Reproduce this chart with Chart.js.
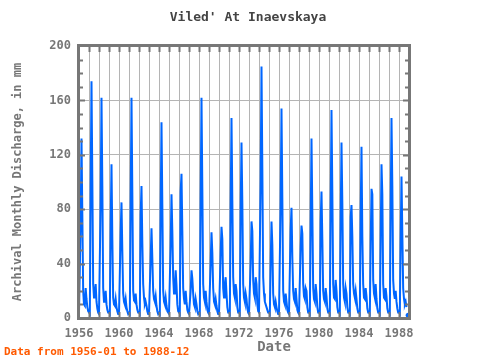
<!DOCTYPE html>
<html>
<head>
<meta charset="utf-8">
<script src="https://cdn.jsdelivr.net/npm/chart.js@4/dist/chart.umd.min.js"></script>
<style>
  body { margin: 0; background: #fff; }
  #chart { display: block; }
</style>
</head>
<body>
<canvas id="chart" width="480" height="360"></canvas>
<script>
// Monthly discharge (mm), Jan..Dec
const years = [];
for (let y = 1956; y <= 1988; y++) years.push(y);

const monthlyDischarge = [
  [4, 4, 70, 132, 76, 20, 10, 9, 22, 14, 8, 5],      // 1956
  [4, 3, 95, 174, 101, 25, 15, 18, 25, 12, 7, 4],    // 1957
  [3, 3, 86, 162, 97, 22, 12, 14, 20, 10, 6, 4],     // 1958
  [4, 3, 68, 113, 58, 15, 10, 9, 14, 8, 5, 3],       // 1959
  [3, 3, 63, 85, 49, 18, 12, 10, 14, 8, 5, 3],       // 1960
  [4, 3, 84, 162, 92, 20, 13, 12, 18, 10, 6, 4],     // 1961
  [4, 3, 76, 97, 55, 25, 15, 10, 12, 9, 5, 3],       // 1962
  [3, 3, 44, 66, 44, 20, 14, 12, 16, 9, 5, 3],       // 1963
  [4, 3, 79, 144, 83, 20, 12, 10, 15, 9, 5, 4],      // 1964
  [3, 3, 54, 91, 64, 30, 18, 22, 35, 24, 10, 5],     // 1965
  [4, 3, 93, 106, 64, 22, 14, 10, 20, 12, 6, 4],     // 1966
  [3, 3, 20, 35, 29, 18, 10, 8, 14, 10, 5, 3],       // 1967
  [4, 3, 87, 162, 95, 25, 15, 12, 20, 12, 6, 4],     // 1968
  [3, 3, 40, 63, 48, 22, 12, 10, 14, 9, 5, 3],       // 1969
  [3, 3, 48, 67, 58, 22, 15, 25, 30, 18, 8, 4],      // 1970
  [4, 3, 81, 147, 86, 30, 18, 15, 25, 20, 8, 4],     // 1971
  [4, 3, 79, 129, 85, 25, 15, 12, 18, 14, 7, 4],     // 1972
  [3, 3, 40, 71, 64, 28, 18, 15, 30, 25, 10, 5],     // 1973
  [4, 4, 101, 185, 110, 30, 18, 12, 10, 8, 6, 4],    // 1974
  [4, 3, 40, 71, 54, 18, 10, 8, 12, 8, 5, 3],        // 1975
  [3, 3, 86, 154, 88, 20, 12, 10, 18, 12, 6, 4],     // 1976
  [3, 3, 65, 81, 45, 20, 14, 12, 22, 14, 6, 4],      // 1977
  [3, 3, 52, 68, 62, 25, 16, 14, 22, 20, 8, 4],      // 1978
  [4, 3, 68, 132, 78, 22, 14, 12, 25, 18, 8, 4],     // 1979
  [4, 3, 71, 93, 58, 20, 14, 12, 22, 16, 7, 4],      // 1980
  [4, 3, 79, 153, 92, 25, 15, 14, 28, 20, 8, 4],     // 1981
  [4, 3, 71, 129, 85, 25, 15, 12, 22, 18, 8, 4],     // 1982
  [4, 3, 74, 83, 60, 25, 18, 15, 20, 14, 7, 4],      // 1983
  [4, 3, 75, 126, 60, 25, 15, 14, 22, 16, 7, 4],     // 1984
  [4, 3, 53, 95, 91, 28, 18, 15, 25, 14, 7, 4],      // 1985
  [4, 3, 57, 113, 91, 25, 15, 14, 22, 16, 7, 4],     // 1986
  [4, 3, 78, 147, 97, 28, 18, 14, 20, 12, 7, 4],     // 1987
  [4, 3, 58, 104, 62, 22, 14, 10, 12, 8, null, 2]    // 1988
];

const yTicks = [0, 40, 80, 120, 160, 200];
const xLabelYears = [1956, 1960, 1964, 1968, 1972, 1976, 1980, 1984, 1988];

// build {x, y} points: x = fractional year
const points = [];
years.forEach((yr, i) => {
  monthlyDischarge[i].forEach((v, m) => {
    points.push({ x: yr + m / 12, y: v });
  });
});

const gray = '#777777';
const mono = '"DejaVu Sans Mono", monospace';

// frame, inward ticks and the free texts
const decor = {
  id: 'decor',
  afterDraw(chart) {
    const ctx = chart.ctx;
    const a = chart.chartArea;
    const xs = chart.scales.x;
    const ys = chart.scales.y;
    ctx.save();
    ctx.strokeStyle = gray;
    ctx.lineWidth = 2;
    // year ticks top and bottom
    ctx.beginPath();
    for (let yr = 1957; yr <= 1988; yr++) {
      const px = Math.round(xs.getPixelForValue(yr)) + 0.5;
      ctx.moveTo(px, a.top); ctx.lineTo(px, a.top + 6);
      ctx.moveTo(px, a.bottom); ctx.lineTo(px, a.bottom - 6);
    }
    // minor y ticks every 10, left and right
    for (let v = 10; v < 200; v += 10) {
      const py = Math.round(ys.getPixelForValue(v)) + 0.5;
      const len = v % 40 === 0 ? 6 : 4;
      ctx.moveTo(a.left, py); ctx.lineTo(a.left + len, py);
      ctx.moveTo(a.right, py); ctx.lineTo(a.right - len, py);
    }
    ctx.stroke();
    // frame
    ctx.lineWidth = 3;
    ctx.strokeRect(a.left - 0.5, a.top - 0.5, a.right - a.left + 1, a.bottom - a.top + 1);

    // texts
    ctx.fillStyle = '#444444';
    ctx.textAlign = 'center';
    ctx.textBaseline = 'middle';
    ctx.font = 'bold 13px ' + mono;
    ctx.fillText("Viled' At Inaevskaya", 248, 18);

    ctx.fillStyle = gray;
    ctx.font = 'bold 14px ' + mono;
    ctx.fillText('Date', 274, 347);

    ctx.save();
    ctx.translate(18, 182);
    ctx.rotate(-Math.PI / 2);
    ctx.font = 'bold 12px ' + mono;
    ctx.fillText('Archival Monthly Discharge, in mm', 0, 0);
    ctx.restore();

    ctx.fillStyle = '#ff5a00';
    ctx.textAlign = 'left';
    ctx.font = 'bold 11px ' + mono;
    ctx.fillText('Data from 1956-01 to 1988-12', 4, 352);
    ctx.restore();
  }
};

new Chart(document.getElementById('chart'), {
  type: 'line',
  data: {
    datasets: [{
      data: points,
      borderColor: '#0066ff',
      backgroundColor: '#0066ff',
      borderWidth: 2,
      tension: 0,
      spanGaps: false,
      // show a dot only where a value stands alone
      pointRadius: ctx => {
        const i = ctx.dataIndex;
        const prev = points[i - 1], next = points[i + 1];
        const lonely = (!prev || prev.y === null) && (!next || next.y === null);
        return lonely ? 2.5 : 0;
      },
      pointBorderWidth: 0
    }]
  },
  options: {
    responsive: false,
    animation: false,
    layout: { padding: { left: 0, right: 71, top: 46, bottom: 0 } },
    plugins: { legend: { display: false }, tooltip: { enabled: false } },
    scales: {
      x: {
        type: 'linear',
        min: 1956,
        max: 1989,
        afterFit: s => { s.height = 42; },
        afterBuildTicks: s => {
          s.ticks = years.map(v => ({ value: v }));
        },
        grid: { color: '#b4b4b4', lineWidth: 1, drawTicks: false },
        border: { display: false },
        ticks: {
          autoSkip: false,
          maxRotation: 0,
          padding: 9,
          color: gray,
          font: { family: mono, size: 12, weight: 'bold' },
          callback: v => xLabelYears.includes(v) ? String(v) : ''
        }
      },
      y: {
        min: 0,
        max: 200,
        afterFit: s => { s.width = 79; },
        afterBuildTicks: s => {
          s.ticks = yTicks.map(v => ({ value: v }));
        },
        grid: { color: '#b4b4b4', lineWidth: 1, drawTicks: false },
        border: { display: false },
        ticks: {
          padding: 8,
          color: gray,
          font: { family: mono, size: 12, weight: 'bold' }
        }
      }
    }
  },
  plugins: [decor]
});
</script>
</body>
</html>
